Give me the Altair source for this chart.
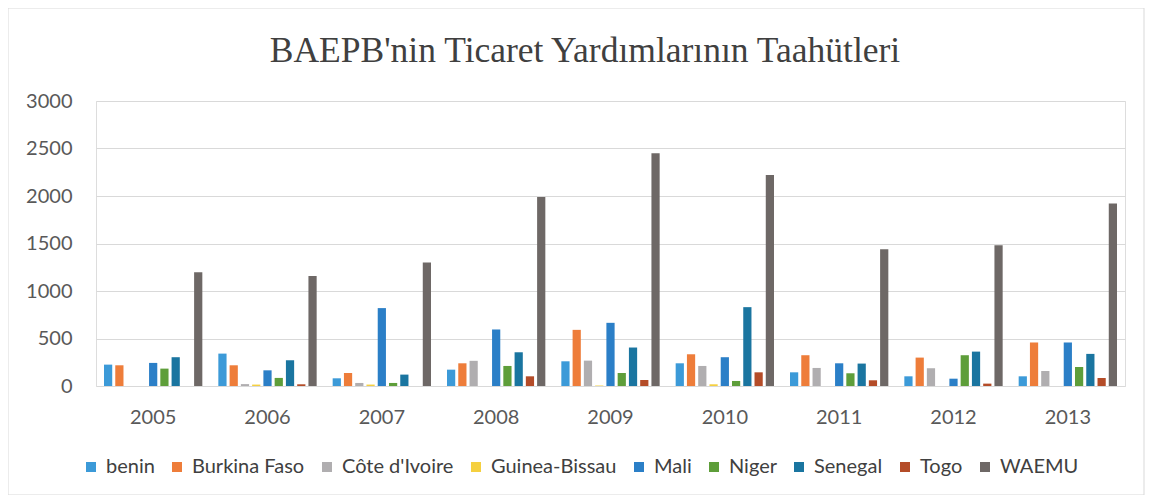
import altair as alt
import pandas as pd

years = ["2005", "2006", "2007", "2008", "2009", "2010", "2011", "2012", "2013"]
series = ["benin", "Burkina Faso", "Côte d'Ivoire", "Guinea-Bissau", "Mali", "Niger", "Senegal", "Togo", "WAEMU"]
benin = [225, 341, 81, 172, 260, 239, 144, 102, 102]
burkina = [218, 218, 137, 239, 591, 334, 324, 299, 458]
cote = [0, 20, 32, 265, 267, 211, 190, 187, 158]
guinea = [0, 15, 15, 0, 5, 18, 0, 0, 0]
mali = [243, 165, 820, 595, 665, 303, 239, 77, 458]
niger = [183, 85, 32, 211, 137, 53, 134, 324, 200]
senegal = [303, 271, 120, 355, 405, 830, 236, 362, 338]
togo = [0, 18, 0, 102, 63, 144, 60, 25, 84]
waemu = [1197, 1158, 1299, 1990, 2450, 2220, 1440, 1482, 1920]
colors = ["#3C9AD8", "#EE7D3A", "#B0AEB0", "#F5D040", "#2B7FC7", "#5E9E3A", "#1A75A0", "#B44C28", "#6E6866"]
title_text = "BAEPB'nin Ticaret Yardımlarının Taahütleri"

all_vals = [benin, burkina, cote, guinea, mali, niger, senegal, togo, waemu]
rows = []
for s, vals in zip(series, all_vals):
    for y, v in zip(years, vals):
        rows.append({"year": y, "country": s, "value": v})
df = pd.DataFrame(rows)

W, H = 1029, 285
FONT = "Lato"

bars = alt.Chart(df).mark_bar().encode(
    x=alt.X("year:N", sort=years, title=None,
            scale=alt.Scale(paddingInner=0.14, paddingOuter=0.07),
            axis=alt.Axis(labelAngle=0, labelFontSize=20, labelColor="#595959",
                          labelFont=FONT, ticks=False, domain=False, labelPadding=21)),
    xOffset=alt.XOffset("country:N", sort=series,
                        scale=alt.Scale(paddingInner=0.27, paddingOuter=0)),
    y=alt.Y("value:Q", title=None,
            scale=alt.Scale(domain=[0, 3000], nice=False),
            axis=alt.Axis(values=[0, 500, 1000, 1500, 2000, 2500, 3000], format="d",
                          labelFontSize=20, labelColor="#595959", labelFont=FONT,
                          ticks=False, domain=False, labelPadding=24, gridColor="#d9d9d9")),
    color=alt.Color("country:N", sort=series,
                    scale=alt.Scale(domain=series, range=colors),
                    legend=alt.Legend(title=None, orient="none", direction="horizontal",
                                      columns=9, legendX=-15, legendY=356,
                                      symbolType="square", symbolSize=100, symbolStrokeWidth=0,
                                      labelFontSize=20, labelFont=FONT,
                                      labelColor="#404040", columnPadding=12, labelOffset=5)),
)

frame = alt.Chart(alt.Data(values=[{}])).mark_rect(
    fill=None, stroke="#d9d9d9", strokeWidth=1
).encode(
    x=alt.value(-88), x2=alt.value(1048), y=alt.value(-93), y2=alt.value(394)
)

title = alt.Chart(alt.Data(values=[{}])).mark_text(
    font="Liberation Serif", fontSize=35.5, color="#404040", align="center", baseline="alphabetic"
).encode(
    x=alt.value(489), y=alt.value(-39), text=alt.value(title_text)
)

chart = alt.layer(frame, bars, title).properties(
    width=W, height=H,
    autosize=alt.AutoSizeParams(type="none"),
    padding={"left": 88, "top": 93, "right": 20, "bottom": 109},
).configure_view(stroke=None).configure(background="white")

chart.save("out.html", embed_options={"renderer": "svg", "actions": False})
